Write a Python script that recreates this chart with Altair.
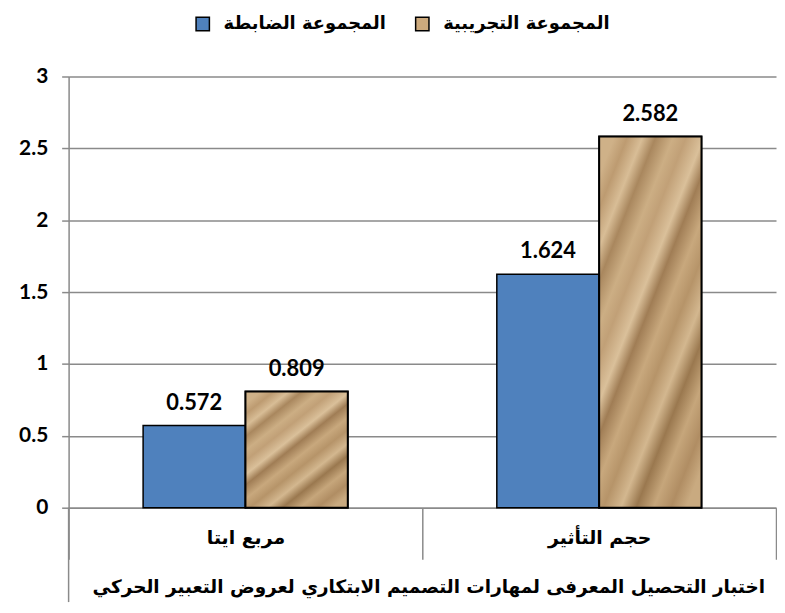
import altair as alt
import pandas as pd

categories = ["مربع ايتا", "حجم التأثير"]
groups = ["المجموعة الضابطة", "المجموعة التجريبية"]
control_values = [0.572, 1.624]
experimental_values = [0.809, 2.582]
y_ticks = [0, 0.5, 1, 1.5, 2, 2.5, 3]
x_title = "اختبار التحصيل المعرفى لمهارات التصميم الابتكاري لعروض التعبير الحركي"

rows = []
for i, c in enumerate(categories):
    rows.append({"cat": c, "group": groups[0], "value": control_values[i]})
    rows.append({"cat": c, "group": groups[1], "value": experimental_values[i]})
df = pd.DataFrame(rows)
df["label"] = df["value"].map(lambda v: f"{v:.3f}")

W, H = 712, 434
ARABIC = "DejaVu Sans"
NUM = "Lato"
GRAY = "#8a8a8a"
BLUE = "#4F81BD"
TAN = "#CDAA7D"

paper = {
    "gradient": "linear", "x1": 0.15, "y1": 0, "x2": 0.85, "y2": 1,
    "stops": [
        {"offset": 0.00, "color": "#CFB188"},
        {"offset": 0.06, "color": "#BD9B71"},
        {"offset": 0.13, "color": "#D8BD96"},
        {"offset": 0.19, "color": "#A9875E"},
        {"offset": 0.27, "color": "#CCAE84"},
        {"offset": 0.33, "color": "#C1A077"},
        {"offset": 0.41, "color": "#DAC09A"},
        {"offset": 0.47, "color": "#A07D55"},
        {"offset": 0.55, "color": "#C8A87D"},
        {"offset": 0.62, "color": "#B69469"},
        {"offset": 0.70, "color": "#D3B78F"},
        {"offset": 0.77, "color": "#9A784F"},
        {"offset": 0.85, "color": "#C6A67B"},
        {"offset": 0.93, "color": "#B08D63"},
        {"offset": 1.00, "color": "#C9AA80"},
    ],
}

x_enc = alt.X(
    "cat:N", sort=categories,
    scale=alt.Scale(paddingInner=0, paddingOuter=0),
    axis=alt.Axis(
        title=x_title, labelAngle=0, tickBand="extent", tickSize=52,
        labelPadding=-31, labelFont=ARABIC, labelFontSize=19, labelFontWeight="bold",
        labelColor="black", tickColor=GRAY, tickWidth=1.5, domainColor=GRAY,
        domainWidth=1.5, titleFont=ARABIC, titleFontSize=18.5, titleFontWeight="bold",
        titleColor="black", titlePadding=18, titleX=362,
    ),
)
xoff = alt.XOffset("group:N", sort=groups,
                   scale=alt.Scale(paddingOuter=0.728, paddingInner=0))
y_enc = alt.Y(
    "value:Q", scale=alt.Scale(domain=[0, 3]),
    axis=alt.Axis(
        values=y_ticks, format="~g", title=None, labelFont=NUM, labelFontSize=21,
        labelFontWeight="bold", labelColor="black", labelPadding=14, tickSize=7,
        tickColor=GRAY, tickWidth=1.5, domainColor=GRAY, domainWidth=1.5,
        gridColor=GRAY, gridWidth=1.5,
    ),
)

base = alt.Chart(df)

bars = base.mark_bar(stroke="black", strokeWidth=1.5).encode(
    x=x_enc, xOffset=xoff, y=y_enc,
    color=alt.Color(
        "group:N", sort=groups,
        scale=alt.Scale(domain=groups, range=[BLUE, TAN]),
        legend=alt.Legend(
            title=None, orient="none", legendX=126, legendY=-62,
            direction="horizontal", symbolType="square", symbolSize=180,
            symbolStrokeColor="black", symbolStrokeWidth=1.5, symbolOpacity=1,
            labelFont=ARABIC, labelFontSize=18, labelFontWeight="bold",
            labelColor="black", columnPadding=26, labelOffset=12, labelLimit=400,
        ),
    ),
)

texture = base.transform_filter(alt.datum.group == groups[1]).mark_bar(
    fill=paper, stroke="black", strokeWidth=2
).encode(x=x_enc, xOffset=xoff, y=y_enc)

labels = base.mark_text(
    font=NUM, fontSize=22, fontWeight="bold", color="black",
    baseline="alphabetic", dy=-16,
).encode(x=x_enc, xOffset=xoff, y=y_enc, text="label:N")

edge = alt.Chart(pd.DataFrame({"k": [0]})).mark_rule(
    color=GRAY, strokeWidth=1.5
).encode(x=alt.value(0), y=alt.value(H), y2=alt.value(H + 95))

chart = alt.layer(bars, texture, labels, edge).properties(
    width=W, height=H,
    padding={"left": 10, "top": 5, "right": 0, "bottom": 2},
).configure_view(stroke=None)

chart.save("out.html", embed_options={"renderer": "svg", "actions": False})
